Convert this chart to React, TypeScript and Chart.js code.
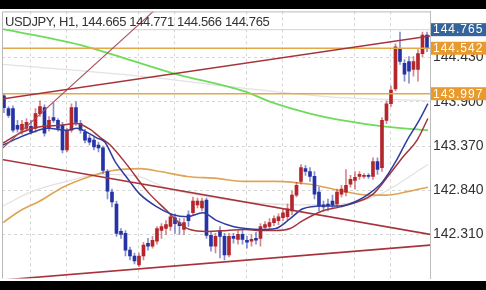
import { useEffect, useRef } from "react";
import { Chart, registerables } from "chart.js";

Chart.register(...registerables);

const symbolTitle = "USDJPY, H1, 144.665 144.771 144.566 144.765";

const opens = [
  143.971, 143.818, 143.818, 143.618, 143.559, 143.582, 143.606, 143.582, 143.759, 143.830,
  143.582, 143.712, 143.677, 143.618, 143.323, 143.559, 143.830, 143.641, 143.535, 143.465,
  143.441, 143.382, 143.347, 143.064, 142.817, 142.675, 142.346, 142.322, 142.122, 142.051,
  141.945, 142.051, 142.204, 142.169, 142.228, 142.357, 142.381, 142.405, 142.510, 142.452,
  142.369, 142.546, 142.570, 142.664, 142.628, 142.723, 142.299, 142.169, 142.357, 142.287,
  142.063, 142.287, 142.251, 142.310, 142.240, 142.228, 142.263, 142.263, 142.393, 142.405,
  142.452, 142.475, 142.510, 142.522, 142.593, 142.781, 142.946, 143.099, 143.064, 143.005,
  142.817, 142.664, 142.675, 142.711, 142.675, 142.793, 142.817, 142.911, 142.958, 143.005,
  143.005, 143.017, 143.005, 143.182, 143.111, 143.677, 143.877, 144.054, 144.536, 144.360,
  144.383, 144.289, 144.289, 144.478, 144.701,
];
const highs = [
  143.995, 143.842, 143.853, 143.677, 143.677, 143.700, 143.677, 143.818, 143.912, 143.865,
  143.724, 143.889, 143.700, 143.653, 143.582, 143.877, 143.900, 143.677, 143.571, 143.500,
  143.476, 143.417, 143.370, 143.088, 142.852, 142.711, 142.381, 142.357, 142.157, 142.087,
  142.087, 142.216, 142.263, 142.287, 142.405, 142.440, 142.475, 142.558, 142.558, 142.499,
  142.499, 142.593, 142.758, 142.746, 142.746, 142.746, 142.334, 142.322, 142.405, 142.322,
  142.322, 142.322, 142.357, 142.357, 142.287, 142.310, 142.334, 142.440, 142.463, 142.499,
  142.534, 142.558, 142.617, 142.675, 142.829, 142.935, 143.147, 143.135, 143.111, 143.064,
  142.876, 142.711, 142.734, 142.781, 142.852, 142.899, 143.088, 143.017, 143.064, 143.064,
  143.040, 143.040, 143.229, 143.229, 143.712, 143.912, 144.089, 144.595, 144.737, 144.407,
  144.442, 144.442, 144.525, 144.737, 144.737,
];
const lows = [
  143.771, 143.712, 143.535, 143.535, 143.512, 143.547, 143.512, 143.535, 143.724, 143.488,
  143.547, 143.653, 143.547, 143.288, 143.300, 143.535, 143.618, 143.524, 143.406, 143.382,
  143.323, 143.300, 143.040, 142.734, 142.640, 142.287, 142.263, 142.051, 142.004, 141.957,
  141.922, 142.004, 142.122, 142.145, 142.193, 142.263, 142.310, 142.357, 142.322, 142.310,
  142.310, 142.405, 142.546, 142.628, 142.593, 142.263, 142.110, 142.087, 142.028, 142.004,
  142.040, 142.204, 142.193, 142.193, 142.145, 142.169, 142.193, 142.169, 142.357, 142.381,
  142.416, 142.428, 142.475, 142.475, 142.546, 142.758, 142.911, 143.017, 142.946, 142.734,
  142.593, 142.593, 142.593, 142.617, 142.640, 142.758, 142.770, 142.876, 142.852, 142.970,
  142.982, 142.982, 142.970, 143.029, 143.064, 143.641, 143.842, 144.030, 144.348, 144.148,
  144.124, 144.207, 144.148, 144.442, 144.501,
];
const closes = [
  143.830, 143.736, 143.559, 143.571, 143.630, 143.653, 143.535, 143.759, 143.842, 143.524,
  143.677, 143.677, 143.582, 143.323, 143.559, 143.830, 143.653, 143.559, 143.441, 143.417,
  143.358, 143.347, 143.076, 142.829, 142.699, 142.322, 142.310, 142.122, 142.051, 141.992,
  142.051, 142.181, 142.169, 142.240, 142.381, 142.405, 142.428, 142.522, 142.440, 142.416,
  142.452, 142.475, 142.711, 142.711, 142.711, 142.299, 142.169, 142.287, 142.287, 142.063,
  142.287, 142.263, 142.310, 142.251, 142.216, 142.251, 142.240, 142.405, 142.428, 142.452,
  142.499, 142.522, 142.570, 142.617, 142.781, 142.899, 143.111, 143.064, 143.005, 142.793,
  142.652, 142.640, 142.652, 142.664, 142.817, 142.852, 142.899, 142.970, 142.993, 143.029,
  143.017, 143.005, 143.182, 143.088, 143.677, 143.877, 144.042, 144.560, 144.383, 144.230,
  144.266, 144.383, 144.478, 144.701, 144.536,
];

// moving averages read as [bar index, price]
const maFast = [
  [-0.2, 143.382], [3.6, 143.476], [6.4, 143.535], [9.6, 143.582], [14.0, 143.559], [16.2, 143.582],
  [18.4, 143.535], [20.7, 143.465], [22.4, 143.417], [24.7, 143.182], [27.3, 142.993], [30.2, 142.793],
  [34.0, 142.640], [37.6, 142.546], [40.7, 142.522], [44.2, 142.570], [47.3, 142.475], [50.9, 142.405],
  [53.6, 142.381], [56.9, 142.369], [60.4, 142.381], [63.6, 142.499], [66.4, 142.617], [70.9, 142.652],
  [74.7, 142.652], [78.4, 142.711], [81.3, 142.805], [84.2, 142.946], [87.3, 143.206], [89.6, 143.441],
  [92.0, 143.653], [94.2, 143.877],
];
const maSlow = [
  [-0.2, 143.406], [3.6, 143.524], [6.4, 143.582], [8.7, 143.606], [12.4, 143.618], [16.2, 143.641],
  [19.1, 143.571], [21.3, 143.476], [23.6, 143.382], [27.3, 143.147], [31.8, 142.829], [36.2, 142.593],
  [39.1, 142.440], [41.3, 142.369], [45.1, 142.346], [49.6, 142.357], [53.6, 142.369], [56.9, 142.357],
  [60.4, 142.357], [63.6, 142.381], [66.4, 142.475], [70.9, 142.593], [74.7, 142.640], [78.4, 142.699],
  [82.0, 142.793], [85.8, 143.040], [88.7, 143.241], [91.8, 143.441], [94.2, 143.700],
];
const maOrange = [
  [-0.2, 142.452], [3.6, 142.593], [8.0, 142.711], [13.1, 142.876], [19.1, 143.005], [24.2, 143.076],
  [30.2, 143.099], [34.7, 143.064], [40.7, 143.005], [47.3, 142.982], [53.1, 142.946], [60.4, 142.946],
  [68.0, 142.911], [75.3, 142.829], [81.3, 142.781], [84.9, 142.781], [90.2, 142.829], [94.2, 142.876],
];
const maGreen = [
  [-0.2, 144.772], [16.9, 144.584], [24.2, 144.466], [37.6, 144.242], [53.1, 144.030], [60.4, 143.877],
  [68.0, 143.759], [75.3, 143.677], [84.2, 143.606], [94.2, 143.559],
];
const maGrayUpper = [
  [-0.2, 144.348], [30.2, 144.207], [53.1, 144.065], [72.4, 143.959], [94.2, 143.912],
];
const maGrayLower = [
  [-0.2, 142.652], [6.4, 142.829], [14.0, 142.946], [21.3, 143.029], [28.7, 143.017], [36.9, 142.852],
  [45.8, 142.758], [53.1, 142.699], [65.8, 142.664], [75.3, 142.675], [83.6, 142.793], [94.2, 143.147],
];

// trend lines as two [bar index, price] points
const trendUpper = [[-1, 143.929], [96, 144.7]];
const trendSteep = [[-1, 143.309], [34.67, 145.057]];
const trendFalling = [[-1, 143.213], [96, 142.297]];
const trendLower = [[-1, 141.76], [96, 142.187]];

const orangeLevels = [144.542, 143.997];
const bidPrice = 144.765;

const yTicks = [142.31, 142.84, 143.37, 143.9, 144.43];
const gridBars = [6, 14, 30, 38, 54, 62, 78, 86];
const yMin = 141.78;
const yMax = 144.984;
const xMin = -0.44;
const xMax = 94.67;

export default function App() {
  const ref = useRef<HTMLCanvasElement>(null);

  useEffect(() => {
    const canvas = ref.current;
    if (!canvas) return;
    const upColor = "#b3262b";
    const downColor = "#2633a6";
    const up = opens.map((o, i) => closes[i] >= o);
    const bodyColors = up.map((u) => (u ? upColor : downColor));
    const wickColors = up.map((u) => (u ? "rgba(179,38,43,0.55)" : "rgba(38,51,166,0.55)"));

    const pts = (arr: number[][]) => arr.map(([x, y]) => ({ x, y }));
    const line = (data: number[][], color: string, width: number, order: number, smooth = true) => ({
      type: "line",
      data: pts(data),
      borderColor: color,
      backgroundColor: color,
      borderWidth: width,
      pointRadius: 0,
      pointHoverRadius: 0,
      fill: false,
      clip: 0,
      order,
      cubicInterpolationMode: smooth ? "monotone" : "default",
      tension: 0,
    });
    const hLine = (price: number, color: string, width: number, order: number) =>
      line([[-1, price], [96, price]], color, width, order, false);

    const datasets: any[] = [
      line(maGrayUpper, "#e2e2e2", 1.2, 12),
      line(maGrayLower, "#e4e0e0", 1.2, 12),
      hLine(bidPrice, "#d4d4d4", 1, 11),
      line(maOrange, "#e0a456", 1.6, 10),
      line(maGreen, "#6edc5a", 1.8, 9),
      {
        type: "bar",
        data: lows.map((l, i) => ({ x: i, y: [l, highs[i]] })),
        backgroundColor: wickColors,
        barThickness: 1,
        grouped: false,
        borderWidth: 0,
        minBarLength: 1,
        order: 8,
      },
      {
        type: "bar",
        data: opens.map((o, i) => ({ x: i, y: [o, closes[i]] })),
        backgroundColor: bodyColors,
        barThickness: 3,
        grouped: false,
        borderWidth: 0,
        minBarLength: 1,
        order: 7,
      },
      line(maSlow, "#a3343a", 1.5, 6),
      line(maFast, "#2f3d9e", 1.5, 5),
      ...orangeLevels.map((p) => hLine(p, "#e2a94a", 1.6, 4)),
      line(trendUpper, "#a8323c", 1.6, 3, false),
      line(trendSteep, "#a8505a", 1.1, 3, false),
      line(trendFalling, "#a8323c", 1.6, 3, false),
      line(trendLower, "#a8323c", 1.6, 3, false),
    ];

    const framePlugin = {
      id: "frame",
      beforeDraw(chart: any) {
        const { ctx, width, height } = chart;
        ctx.save();
        ctx.fillStyle = "#000";
        ctx.fillRect(0, 0, width, height);
        ctx.fillStyle = "#fff";
        ctx.fillRect(0, 9, width, 272);
        ctx.restore();
      },
      afterDraw(chart: any) {
        const { ctx, chartArea: a } = chart;
        const ys = chart.scales.y;
        ctx.save();
        ctx.strokeStyle = "#b8b8b8";
        ctx.lineWidth = 1;
        ctx.beginPath();
        ctx.moveTo(a.left + 0.5, a.bottom);
        ctx.lineTo(a.left + 0.5, a.top + 0.5);
        ctx.lineTo(a.right, a.top + 0.5);
        ctx.stroke();

        ctx.font = '13px "Liberation Sans", Arial, sans-serif';
        (ctx as any).letterSpacing = "-0.35px";
        ctx.fillStyle = "#333";
        ctx.textBaseline = "alphabetic";
        ctx.textAlign = "left";
        ctx.fillText(symbolTitle, 5, 26);

        const boxes: [number, string][] = [
          [bidPrice, "#35649a"],
          ...orangeLevels.map((p) => [p, "#e99a2c"] as [number, string]),
        ];
        ctx.font = '12px "Liberation Sans", Arial, sans-serif';
        (ctx as any).letterSpacing = "1px";
        ctx.textBaseline = "middle";
        for (const [p, c] of boxes) {
          const py = ys.getPixelForValue(p);
          ctx.fillStyle = c;
          ctx.fillRect(a.right + 1, py - 6.5, 56, 13);
          ctx.fillStyle = "#fff";
          ctx.fillText(p.toFixed(3), a.right + 3, py + 0.5);
        }
        ctx.restore();
      },
    };

    const chart = new Chart(canvas, {
      type: "bar",
      data: { datasets },
      options: {
        animation: false,
        responsive: false,
        devicePixelRatio: 1,
        layout: { padding: { left: 2, top: 9, right: 0, bottom: 9 } },
        plugins: { legend: { display: false }, tooltip: { enabled: false } },
        events: [],
        scales: {
          x: {
            type: "linear",
            min: xMin,
            max: xMax,
            offset: false,
            grid: { color: "#d6d6d6", lineWidth: 1, drawTicks: false, offset: false },
            border: { display: false, dash: [3, 3] },
            ticks: { display: false },
            afterBuildTicks: (s: any) => {
              s.ticks = gridBars.map((v) => ({ value: v }));
            },
            afterFit: (s: any) => {
              s.height = 0;
            },
          },
          y: {
            type: "linear",
            position: "right",
            min: yMin,
            max: yMax,
            grid: { color: "#d6d6d6", lineWidth: 1, drawTicks: false },
            border: { display: true, color: "#bdbdbd", width: 1, dash: [3, 3] },
            ticks: {
              padding: 3,
              color: "#333",
              font: { family: '"Liberation Sans", Arial, sans-serif', size: 14 },
              callback: (v: any) => Number(v).toFixed(3),
              autoSkip: false,
            },
            afterBuildTicks: (s: any) => {
              s.ticks = yTicks.map((v) => ({ value: v }));
            },
            afterFit: (s: any) => {
              s.width = 56;
            },
          },
        },
      } as any,
      plugins: [framePlugin],
    } as any);

    return () => chart.destroy();
  }, []);

  return (
    <div style={{ position: "fixed", left: 0, top: 0, width: 486, height: 290, background: "#000" }}>
      <canvas ref={ref} width={486} height={290} style={{ display: "block", width: 486, height: 290 }} />
    </div>
  );
}
